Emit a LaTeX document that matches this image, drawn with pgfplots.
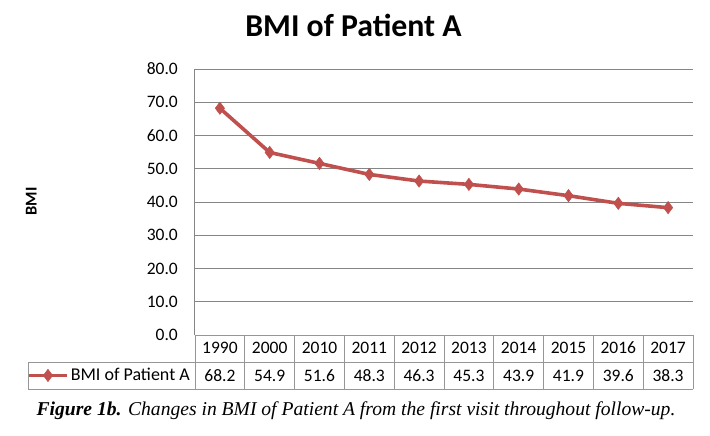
\documentclass[border=0pt]{standalone}
\usepackage{pgfplots}
\pgfplotsset{compat=1.18}
\usepackage{fontspec}
\setmainfont{Carlito}
\newfontfamily\capfont{Liberation Serif}
\definecolor{bmired}{HTML}{C0504D}
\definecolor{gridgray}{RGB}{134,134,134}
\definecolor{tabgray}{RGB}{150,150,150}

\begin{document}
\begin{tikzpicture}[x=1pt,y=1pt]
\path[use as bounding box] (0,0) rectangle (710,-436);
\node[font=\fontsize{31.8}{32}\selectfont\bfseries, anchor=base, inner sep=0pt] at (353.5,-37) {BMI of Patient A};
\begin{axis}[
  at={(195pt,-335pt)}, anchor=south west,
  scale only axis, width=498pt, height=266pt,
  xmin=-0.5, xmax=9.5, ymin=0, ymax=80,
  xtick={0,...,9},
  xticklabels={1990,2000,2010,2011,2012,2013,2014,2015,2016,2017},
  extra x ticks={0,...,9},
  extra x tick labels={68.2,54.9,51.6,48.3,46.3,45.3,43.9,41.9,39.6,38.3},
  extra x tick style={grid=none, xticklabel style={yshift=-28.5pt}},
  ytick={0,10,...,80},
  major tick length=0pt,
  ymajorgrids,
  grid style={gridgray, line width=1pt},
  axis lines*=left,
  axis line style={gridgray, line width=1pt, -},
  /pgf/number format/.cd, fixed, fixed zerofill, precision=1, assume math mode=true,
  /pgfplots/.cd,
  tick label style={font=\fontsize{17.5}{20}\selectfont, text=black},
  yticklabel style={inner sep=0pt, anchor=east, xshift=-17pt},
  xticklabel style={inner sep=0pt, anchor=base, yshift=-18pt},
  ylabel={BMI},
  ylabel style={at={(axis description cs:-0.329,0.502)}, anchor=center, font=\fontsize{16.5}{18}\selectfont\bfseries},
  clip=false,
  legend entries={BMI of Patient A},
  legend style={draw=none, fill=none, at={(axis description cs:-0.337,-0.152)}, anchor=west,
    font=\fontsize{18}{20}\selectfont, inner sep=0pt, outer sep=0pt},
  legend cell align=left,
  legend image code/.code={\draw[mark repeat=2, mark phase=2, #1] plot coordinates {(0pt,0pt) (19pt,0pt) (38pt,0pt)};},
]
\addplot[bmired, line width=3.6pt, mark=diamond*, mark size=6.2pt, mark options={solid, line width=0.5pt}]
  coordinates {(0,68.2) (1,54.9) (2,51.6) (3,48.3) (4,46.3) (5,45.3) (6,43.9) (7,41.9) (8,39.6) (9,38.3)};
\end{axis}
\begin{scope}[tabgray, line width=1pt]
  \draw (195,-335) -- (693,-335);
  \draw (28,-362) -- (693,-362);
  \draw (28,-389) -- (693,-389);
  \draw (28,-362) -- (28,-389);
  \foreach \k in {0,...,10} { \draw ({195+49.8*\k},-335) -- ({195+49.8*\k},-389); }
\end{scope}
\node[anchor=base, inner sep=0pt, font=\capfont\fontsize{19.6}{21}\selectfont] at (356,-415)
  {\textbf{\textit{Figure 1b.}} \textit{Changes in BMI of Patient A from the first visit throughout follow-up.}};
\end{tikzpicture}
\end{document}
